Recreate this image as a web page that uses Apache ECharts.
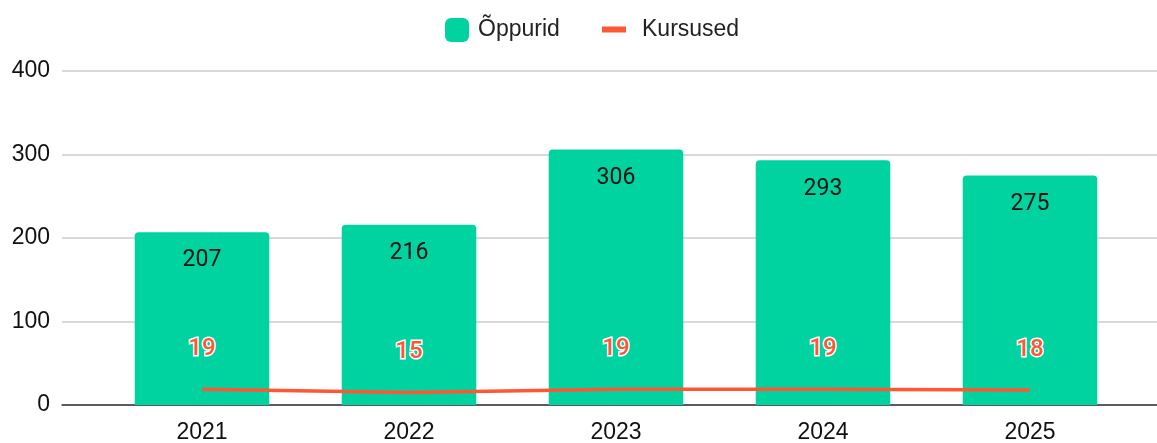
<!DOCTYPE html>
<html>
<head>
<meta charset="utf-8">
<script src="https://cdn.jsdelivr.net/npm/echarts@6/dist/echarts.min.js"></script>
<style>html,body{margin:0;padding:0;background:#fff}#c{width:1157px;height:443px}</style>
</head>
<body>
<div id="c"></div>
<script>
const categories = ['2021', '2022', '2023', '2024', '2025'];
const oppurid = [207, 216, 306, 293, 275];
const kursused = [19, 15, 19, 19, 18];
const yTicks = { min: 0, max: 400, interval: 100 };

const chart = echarts.init(document.getElementById('c'));
const font = 'Liberation Sans, Arial, sans-serif';
chart.setOption({
  animation: false,
  legend: [
    { data: ['Õppurid'], left: 440, top: 13, itemWidth: 24, itemHeight: 24, icon: 'roundRect',
      textStyle: { fontFamily: font, fontSize: 23, color: '#222', padding: [0, 0, 0, 4] } },
    { data: ['Kursused'], left: 597, top: 13, itemWidth: 24, itemHeight: 6, icon: 'rect',
      textStyle: { fontFamily: font, fontSize: 23, color: '#222', padding: [0, 0, 0, 11] } }
  ],
  grid: [
    { left: 98.5, right: 23.5, top: 71, bottom: 38, outerBoundsMode: 'none' },
    { left: 62, right: 0, top: 71, bottom: 38, outerBoundsMode: 'none' }
  ],
  xAxis: [
    { type: 'category', gridIndex: 0, data: categories,
      axisLine: { show: false }, axisTick: { show: false },
      axisLabel: { fontFamily: font, fontSize: 23, color: '#111', margin: 16 } },
    { type: 'category', gridIndex: 1, data: categories, show: true,
      axisLine: { show: true, lineStyle: { color: '#333', width: 1.5 } },
      axisTick: { show: false }, axisLabel: { show: false } }
  ],
  yAxis: [
    { type: 'value', gridIndex: 0, min: yTicks.min, max: yTicks.max, interval: yTicks.interval,
      axisLabel: { show: false }, splitLine: { show: false }, axisLine: { show: false }, axisTick: { show: false } },
    { type: 'value', gridIndex: 1, min: yTicks.min, max: yTicks.max, interval: yTicks.interval,
      axisLabel: { fontFamily: font, fontSize: 23, color: '#111', margin: 12 },
      splitLine: { lineStyle: { color: '#cccccc', width: 1.5 } },
      axisLine: { show: false }, axisTick: { show: false } }
  ],
  series: [
    { name: 'Õppurid', type: 'bar', xAxisIndex: 0, yAxisIndex: 0, data: oppurid, barWidth: '65%',
      itemStyle: { color: '#00d3a0', borderRadius: [4, 4, 0, 0] },
      label: { show: true, position: 'insideTop', distance: 17, fontFamily: 'Roboto, sans-serif', fontSize: 23, color: '#111' } },
    { name: 'Kursused', type: 'line', xAxisIndex: 0, yAxisIndex: 0, data: kursused,
      symbol: 'circle', symbolSize: 0.5, showSymbol: true, z: 5,
      lineStyle: { color: '#ff5733', width: 3.5 }, itemStyle: { color: '#ff5733' },
      label: { show: true, position: 'top', distance: 28, fontFamily: 'Roboto, sans-serif', fontSize: 24, fontWeight: 500,
        color: '#ff5733', textBorderColor: '#fff', textBorderWidth: 3 },
      labelLayout: { hideOverlap: false } }
  ]
});
</script>
</body>
</html>
